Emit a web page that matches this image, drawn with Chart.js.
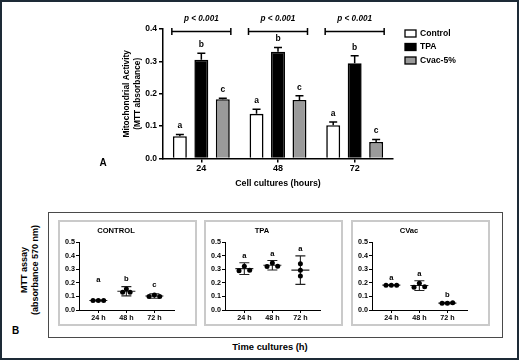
<!DOCTYPE html>
<html><head><meta charset="utf-8">
<script src="https://cdn.jsdelivr.net/npm/chart.js@4.4.1/dist/chart.umd.min.js"></script>
<style>
html,body{margin:0;padding:0;background:#fff;}
#page{position:relative;width:519px;height:360px;overflow:hidden;font-family:"Liberation Sans",Arial,sans-serif;font-weight:bold;color:#000;background:#fff;}
.abs{position:absolute;}
.lbl{position:absolute;white-space:nowrap;transform:translate(-50%,-50%);line-height:1;}
.box{position:absolute;box-sizing:border-box;}
</style></head><body>
<div id="page">
  <canvas id="cA" class="abs" style="left:0;top:0;width:519px;height:200px" width="519" height="200"></canvas>
  <div class="lbl" style="left:103px;top:163px;font-size:10px">A</div>

  <div class="box" style="left:48px;top:212px;width:455px;height:126px;border:1.5px solid #4a4a4a"></div>
  <div class="box" style="left:58px;top:220px;width:139px;height:106px;border:2px solid #cacaca"></div>
  <div class="box" style="left:204px;top:220px;width:139px;height:106px;border:2px solid #cacaca"></div>
  <div class="box" style="left:351px;top:220px;width:139px;height:106px;border:2px solid #cacaca"></div>
  <canvas id="cB1" class="abs" style="left:58px;top:220px;width:139px;height:106px" width="139" height="106"></canvas>
  <canvas id="cB2" class="abs" style="left:204px;top:220px;width:139px;height:106px" width="139" height="106"></canvas>
  <canvas id="cB3" class="abs" style="left:351px;top:220px;width:139px;height:106px" width="139" height="106"></canvas>

  <div class="lbl" style="left:29.7px;top:270px;transform:translate(-50%,-50%) rotate(-90deg);text-align:center;font-size:9px;line-height:10.7px">MTT assay<br>(absorbance 570 nm)</div>
  <div class="lbl" style="left:15.5px;top:331px;font-size:10px">B</div>
  <div class="lbl" style="left:270px;top:346.5px;font-size:9.4px">Time cultures (h)</div>

  <div class="box" style="left:0;top:0;width:519px;height:360px;border:2px solid #1d2a36;pointer-events:none"></div>
</div>
<script>
// ---------- Panel A data ----------
const CATS_A = ['24', '48', '72'];
const SERIES_NAMES = ['Control', 'TPA', 'Cvac-5%'];
const CONTROL_A = [0.069, 0.138, 0.103];
const CONTROL_A_ERR = [0.005, 0.014, 0.010];
const TPA_A = [0.305, 0.330, 0.294];
const TPA_A_ERR = [0.020, 0.013, 0.023];
const CVAC_A = [0.183, 0.181, 0.051];
const CVAC_A_ERR = [0.003, 0.013, 0.008];
const LETTERS_CONTROL_A = ['a', 'a', 'a'];
const LETTERS_TPA_A = ['b', 'b', 'b'];
const LETTERS_CVAC_A = ['c', 'c', 'c'];
const P_LABELS = ['p < 0.001', 'p < 0.001', 'p < 0.001'];

// ---------- Panel B data ----------
const TIMES_B = ['24 h', '48 h', '72 h'];
const CONTROL_B_REPS = [[0.070, 0.070, 0.070], [0.130, 0.155, 0.130], [0.100, 0.110, 0.100]];
const CONTROL_B_MEAN = [0.070, 0.138, 0.103];
const CONTROL_B_SD = [0.004, 0.034, 0.016];
const CONTROL_B_LETTERS = ['a', 'b', 'c'];
const CONTROL_B_LETTER_Y = [0.218, 0.228, 0.182];

const TPA_B_REPS = [[0.290, 0.322, 0.292], [0.320, 0.346, 0.322], [0.340, 0.292, 0.250]];
const TPA_B_MEAN = [0.305, 0.330, 0.294];
const TPA_B_SD = [0.043, 0.035, 0.105];
const TPA_B_LETTERS = ['a', 'a', 'a'];
const TPA_B_LETTER_Y = [0.402, 0.415, 0.449];

const CVAC_B_REPS = [[0.183, 0.183, 0.183], [0.168, 0.197, 0.172], [0.050, 0.050, 0.053]];
const CVAC_B_MEAN = [0.183, 0.180, 0.051];
const CVAC_B_SD = [0.003, 0.036, 0.005];
const CVAC_B_LETTERS = ['a', 'a', 'b'];
const CVAC_B_LETTER_Y = [0.240, 0.265, 0.113];

// ---------- style ----------
const FONT = '"Liberation Sans", Arial, sans-serif';
Chart.defaults.font.family = FONT;
Chart.defaults.color = '#000';

const barErrPlugin = {
  id: 'barErr',
  afterDatasetsDraw(chart) {
    const ctx = chart.ctx, ys = chart.scales.y;
    chart.data.datasets.forEach((ds, di) => {
      const meta = chart.getDatasetMeta(di);
      meta.data.forEach((el, i) => {
        const yt = ys.getPixelForValue(ds.data[i] + ds.errs[i]);
        ctx.save();
        ctx.strokeStyle = '#000'; ctx.lineWidth = 1.5;
        ctx.beginPath();
        ctx.moveTo(el.x, el.y); ctx.lineTo(el.x, yt);
        ctx.moveTo(el.x - 4, yt); ctx.lineTo(el.x + 4, yt);
        ctx.stroke();
        ctx.fillStyle = '#000';
        ctx.font = 'bold 8.5px ' + FONT;
        ctx.textAlign = 'center'; ctx.textBaseline = 'middle';
        ctx.fillText(ds.letters[i], el.x, yt - 8.5);
        ctx.restore();
      });
    });
  },
  afterDraw(chart) {
    const ctx = chart.ctx, xs = chart.scales.x, ca = chart.chartArea;
    ctx.save();
    ctx.strokeStyle = '#000'; ctx.lineWidth = 1.5; ctx.fillStyle = '#000';
    CATS_A.forEach((c, i) => {
      const cx = xs.getPixelForValue(i);
      const l = cx - 29.5, r = cx + 29.5, yb = ca.top + 2.5;
      ctx.beginPath();
      ctx.moveTo(l, yb); ctx.lineTo(r, yb);
      ctx.moveTo(l, yb - 3.5); ctx.lineTo(l, yb + 3.5);
      ctx.moveTo(r, yb - 3.5); ctx.lineTo(r, yb + 3.5);
      ctx.stroke();
      ctx.font = 'italic bold 8.2px ' + FONT;
      ctx.textAlign = 'center'; ctx.textBaseline = 'middle';
      ctx.fillText(P_LABELS[i], cx, yb - 13);
    });
    // legend
    const lx = ca.right + 12;
    chart.data.datasets.forEach((ds, k) => {
      const ry = ca.top + 4.5 + k * 13.5;
      ctx.fillStyle = ds.backgroundColor;
      ctx.fillRect(lx, ry - 3.5, 11, 7);
      ctx.lineWidth = 1.3; ctx.strokeStyle = '#000';
      ctx.strokeRect(lx, ry - 3.5, 11, 7);
      ctx.fillStyle = '#000';
      ctx.font = 'bold 8.6px ' + FONT;
      ctx.textAlign = 'left'; ctx.textBaseline = 'middle';
      ctx.fillText(ds.label, lx + 15, ry);
    });
    ctx.restore();
  }
};

new Chart(document.getElementById('cA'), {
  type: 'bar',
  data: {
    labels: CATS_A,
    datasets: [
      { label: SERIES_NAMES[0], data: CONTROL_A, errs: CONTROL_A_ERR, letters: LETTERS_CONTROL_A, backgroundColor: '#ffffff', borderColor: '#000', borderWidth: 1.6 },
      { label: SERIES_NAMES[1], data: TPA_A, errs: TPA_A_ERR, letters: LETTERS_TPA_A, backgroundColor: '#000000', borderColor: '#000', borderWidth: 1.6 },
      { label: SERIES_NAMES[2], data: CVAC_A, errs: CVAC_A_ERR, letters: LETTERS_CVAC_A, backgroundColor: '#9a9a9a', borderColor: '#000', borderWidth: 1.6 }
    ]
  },
  options: {
    responsive: false, animation: false, devicePixelRatio: 1,
    categoryPercentage: 0.84, barPercentage: 0.65,
    layout: { padding: { left: 100, right: 126, top: 29, bottom: 11 } },
    plugins: { legend: { display: false }, tooltip: { enabled: false } },
    scales: {
      x: {
        offset: true,
        grid: { drawOnChartArea: false, offset: false, tickLength: 4, color: '#000', lineWidth: 1.5 },
        border: { color: '#000', width: 1.5 },
        ticks: { font: { size: 9, weight: 'bold' }, color: '#000', padding: 1 },
        title: { display: true, text: 'Cell cultures (hours)', font: { size: 8.8, weight: 'bold' }, color: '#000', padding: { top: 0, bottom: 0 } },
        afterFit: a => { a.height = 30.5; }
      },
      y: {
        min: 0, max: 0.4,
        grid: { drawOnChartArea: false, tickLength: 4, color: '#000', lineWidth: 1.5 },
        border: { color: '#000', width: 1.5 },
        ticks: { stepSize: 0.1, callback: v => Number(v).toFixed(1), font: { size: 8.5, weight: 'bold' }, color: '#000', padding: 2 },
        title: { display: true, text: ['Mitochondrial Activity', '(MTT absorbance)'], font: { size: 8.4, weight: 'bold', lineHeight: 1.3 }, color: '#000', padding: { top: 21.5, bottom: 0 } },
        afterFit: a => { a.width = 63; }
      }
    }
  },
  plugins: [barErrPlugin]
});

// ---------- Panel B ----------
const JITTER = [-0.19, 0, 0.19];
const meanSdPlugin = {
  id: 'meanSd',
  beforeDatasetsDraw(chart) {
    const o = chart.config.options.plugins.meanSd;
    const ctx = chart.ctx, xs = chart.scales.x, ys = chart.scales.y;
    ctx.save();
    ctx.strokeStyle = '#222'; ctx.lineWidth = 1.1;
    o.mean.forEach((m, i) => {
      const cx = xs.getPixelForValue(i + 1);
      const ym = ys.getPixelForValue(m);
      const yt = ys.getPixelForValue(m + o.sd[i]);
      const yb = ys.getPixelForValue(m - o.sd[i]);
      ctx.beginPath();
      ctx.moveTo(cx - 9, ym); ctx.lineTo(cx + 9, ym);
      ctx.moveTo(cx, yt); ctx.lineTo(cx, yb);
      ctx.moveTo(cx - 5, yt); ctx.lineTo(cx + 5, yt);
      ctx.moveTo(cx - 5, yb); ctx.lineTo(cx + 5, yb);
      ctx.stroke();
      ctx.fillStyle = '#000';
      ctx.font = 'bold 7.6px ' + FONT;
      ctx.textAlign = 'center'; ctx.textBaseline = 'middle';
      ctx.fillText(o.letters[i], cx, ys.getPixelForValue(o.letterY[i]));
    });
    ctx.restore();
  }
};

function makeSub(id, title, reps, mean, sd, letters, letterY, spread) {
  const pts = [];
  reps.forEach((arr, i) => arr.forEach((v, k) => pts.push({ x: i + 1 + JITTER[k] * spread[i], y: v })));
  new Chart(document.getElementById(id), {
    type: 'scatter',
    data: { datasets: [{ data: pts, pointRadius: 2.5, pointBackgroundColor: '#000', pointBorderWidth: 0 }] },
    options: {
      responsive: false, animation: false, devicePixelRatio: 1,
      layout: { padding: { left: 0, right: 23, top: 0, bottom: 2 } },
      plugins: {
        legend: { display: false }, tooltip: { enabled: false },
        title: { display: true, text: title, color: '#000', font: { size: 7.6, weight: 'bold' }, padding: { top: 6.5, bottom: 6.5 } },
        meanSd: { mean, sd, letters, letterY }
      },
      scales: {
        x: {
          type: 'linear', min: 0.31, max: 3.70,
          afterBuildTicks: a => { a.ticks = [1, 2, 3].map(v => ({ value: v })); },
          ticks: { callback: v => TIMES_B[Math.round(v) - 1], font: { size: 7.2, weight: 'bold' }, color: '#000', padding: 1, maxRotation: 0, autoSkip: false },
          grid: { drawOnChartArea: false, tickLength: 3, color: '#000' },
          border: { color: '#000', width: 1 },
          afterFit: a => { a.height = 14; }
        },
        y: {
          min: 0, max: 0.5,
          ticks: { stepSize: 0.1, callback: v => Number(v).toFixed(1), font: { size: 7.2, weight: 'bold' }, color: '#000', padding: 1 },
          grid: { drawOnChartArea: false, tickLength: 3, color: '#000' },
          border: { color: '#000', width: 1 },
          afterFit: a => { a.width = 21; }
        }
      }
    },
    plugins: [meanSdPlugin]
  });
}

makeSub('cB1', 'CONTROL', CONTROL_B_REPS, CONTROL_B_MEAN, CONTROL_B_SD, CONTROL_B_LETTERS, CONTROL_B_LETTER_Y, [1, 0.7, 1]);
makeSub('cB2', 'TPA', TPA_B_REPS, TPA_B_MEAN, TPA_B_SD, TPA_B_LETTERS, TPA_B_LETTER_Y, [1, 1, 0]);
makeSub('cB3', 'CVac', CVAC_B_REPS, CVAC_B_MEAN, CVAC_B_SD, CVAC_B_LETTERS, CVAC_B_LETTER_Y, [1, 1, 1]);
</script>
</body></html>
